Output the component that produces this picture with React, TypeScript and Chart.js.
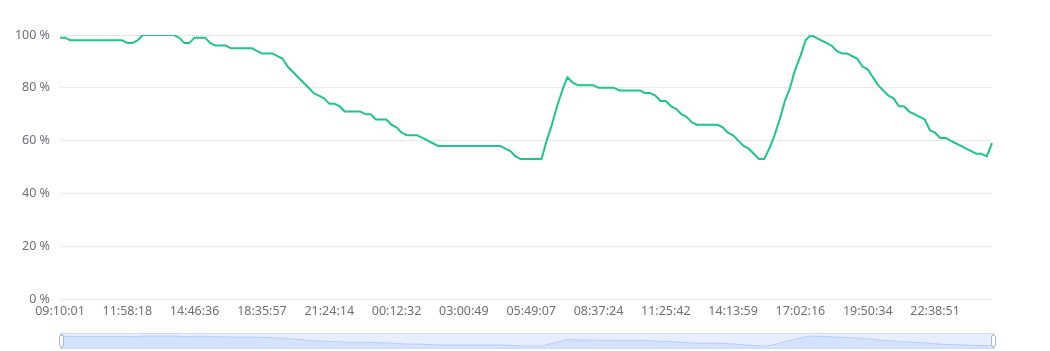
import React, { useEffect, useRef } from 'react';
import { Chart, registerables } from 'chart.js';

Chart.register(...registerables);

// ---- data ----
const tickLabels = [
  '09:10:01', '11:58:18', '14:46:36', '18:35:57', '21:24:14', '00:12:32', '03:00:49',
  '05:49:07', '08:37:24', '11:25:42', '14:13:59', '17:02:16', '19:50:34', '22:38:51',
];
const labelStep = 13;
const batteryLevel = [
  99, 99, 98, 98, 98, 98, 98, 98, 98, 98,
  98, 98, 98, 97, 97, 98, 100, 100, 100, 100,
  100, 100, 100, 99, 97, 97, 99, 99, 99, 97,
  96, 96, 96, 95, 95, 95, 95, 95, 94, 93,
  93, 93, 92, 91, 88, 86, 84, 82, 80, 78,
  77, 76, 74, 74, 73, 71, 71, 71, 71, 70,
  70, 68, 68, 68, 66, 65, 63, 62, 62, 62,
  61, 60, 59, 58, 58, 58, 58, 58, 58, 58,
  58, 58, 58, 58, 58, 58, 57, 56, 54, 53,
  53, 53, 53, 53, 60, 66, 73, 79, 84, 82,
  81, 81, 81, 81, 80, 80, 80, 80, 79, 79,
  79, 79, 79, 78, 78, 77, 75, 75, 73, 72,
  70, 69, 67, 66, 66, 66, 66, 66, 65, 63,
  62, 60, 58, 57, 55, 53, 53, 57, 62, 68,
  75, 80, 87, 92, 98, 100, 99, 98, 97, 96,
  94, 93, 93, 92, 91, 88, 87, 84, 81, 79,
  77, 76, 73, 73, 71, 70, 69, 68, 64, 63,
  61, 61, 60, 59, 58, 57, 56, 55, 55, 54,
  59,
];
const yTicks = [0, 20, 40, 60, 80, 100];

const categoryLabels = batteryLevel.map((_, i) =>
  i % labelStep === 0 ? (tickLabels[i / labelStep] ?? '') : ''
);

const LINE_COLOR = '#1fc38d';
const TEXT_COLOR = '#6E7079';
const FONT = { family: "'Noto Sans', sans-serif", size: 12.5 };

function MainChart() {
  const ref = useRef<HTMLCanvasElement>(null);
  useEffect(() => {
    const chart = new Chart(ref.current as HTMLCanvasElement, {
      type: 'line',
      data: {
        labels: categoryLabels,
        datasets: [
          {
            data: batteryLevel,
            borderColor: LINE_COLOR,
            borderWidth: 2,
            pointRadius: 0,
            tension: 0,
            fill: false,
            borderJoinStyle: 'round',
          },
        ],
      },
      options: {
        responsive: false,
        animation: false,
        layout: { padding: { left: 0, right: 58, top: 35, bottom: 0 } },
        plugins: { legend: { display: false }, tooltip: { enabled: false } },
        scales: {
          x: {
            type: 'category',
            grid: { display: false, drawTicks: false },
            border: { display: false },
            ticks: {
              autoSkip: false,
              maxRotation: 0,
              minRotation: 0,
              padding: 5,
              color: TEXT_COLOR,
              font: FONT,
            },
            afterFit: (s: any) => {
              s.height = 26;
            },
          },
          y: {
            min: 0,
            max: 100,
            afterBuildTicks: (s: any) => {
              s.ticks = yTicks.map((v) => ({ value: v }));
            },
            grid: { color: '#d6d6d6', drawTicks: false, lineWidth: 1 },
            border: { display: false, dash: [1, 1] },
            ticks: {
              padding: 10,
              color: TEXT_COLOR,
              font: FONT,
              callback: (v: any) => v + ' %',
            },
            afterFit: (s: any) => {
              s.width = 60;
            },
          },
        },
      },
    });
    return () => chart.destroy();
  }, []);
  return <canvas ref={ref} width={1050} height={325} style={{ display: 'block' }} />;
}

const sliderFrame = {
  id: 'sliderFrame',
  beforeDatasetsDraw(chart: any) {
    const { ctx, chartArea: a } = chart;
    ctx.save();
    ctx.fillStyle = 'rgba(135,175,255,0.2)';
    ctx.fillRect(a.left, a.top, a.right - a.left, a.bottom - a.top);
    ctx.restore();
  },
  afterDraw(chart: any) {
    const { ctx, chartArea: a } = chart;
    ctx.save();
    ctx.strokeStyle = '#d2dbee';
    ctx.lineWidth = 1;
    ctx.strokeRect(a.left + 0.5, a.top + 0.5, a.right - a.left - 1, a.bottom - a.top - 1);
    const h = a.bottom - a.top;
    const drawHandle = (cx: number) => {
      const w = 4;
      const rh = h * 0.7;
      const top = a.top + (h - rh) / 2;
      ctx.strokeStyle = '#ACB8D1';
      ctx.lineWidth = 1;
      ctx.beginPath();
      ctx.moveTo(cx + 0.5, a.top);
      ctx.lineTo(cx + 0.5, top);
      ctx.moveTo(cx + 0.5, top + rh);
      ctx.lineTo(cx + 0.5, a.bottom);
      ctx.stroke();
      ctx.beginPath();
      (ctx as any).roundRect(cx - w / 2 + 0.5, top, w, rh, 1.5);
      ctx.fillStyle = '#ffffff';
      ctx.fill();
      ctx.stroke();
    };
    drawHandle(a.left + 1);
    drawHandle(a.right - 1);
    ctx.restore();
  },
};

function SliderChart() {
  const ref = useRef<HTMLCanvasElement>(null);
  useEffect(() => {
    const lo = Math.min(...batteryLevel);
    const hi = Math.max(...batteryLevel);
    const off = (hi - lo) * 0.3;
    const chart = new Chart(ref.current as HTMLCanvasElement, {
      type: 'line',
      data: {
        labels: categoryLabels,
        datasets: [
          {
            data: batteryLevel,
            borderColor: '#8fb0f7',
            borderWidth: 0.5,
            backgroundColor: 'rgba(143,176,247,0.22)',
            fill: 'start',
            pointRadius: 0,
            tension: 0,
          },
        ],
      },
      options: {
        responsive: false,
        animation: false,
        layout: { padding: { left: 60, right: 56, top: 4, bottom: 2 } },
        plugins: { legend: { display: false }, tooltip: { enabled: false } },
        scales: {
          x: { display: false },
          y: { display: false, min: lo - off, max: hi + off },
        },
      },
      plugins: [sliderFrame],
    });
    return () => chart.destroy();
  }, []);
  return <canvas ref={ref} width={1050} height={22} style={{ display: 'block' }} />;
}

export default function App() {
  return (
    <div style={{ position: 'absolute', left: 0, top: 0, width: 1050, height: 351, background: '#fff' }}>
      <div style={{ position: 'absolute', left: 0, top: 0 }}>
        <MainChart />
      </div>
      <div style={{ position: 'absolute', left: 0, top: 329 }}>
        <SliderChart />
      </div>
    </div>
  );
}
